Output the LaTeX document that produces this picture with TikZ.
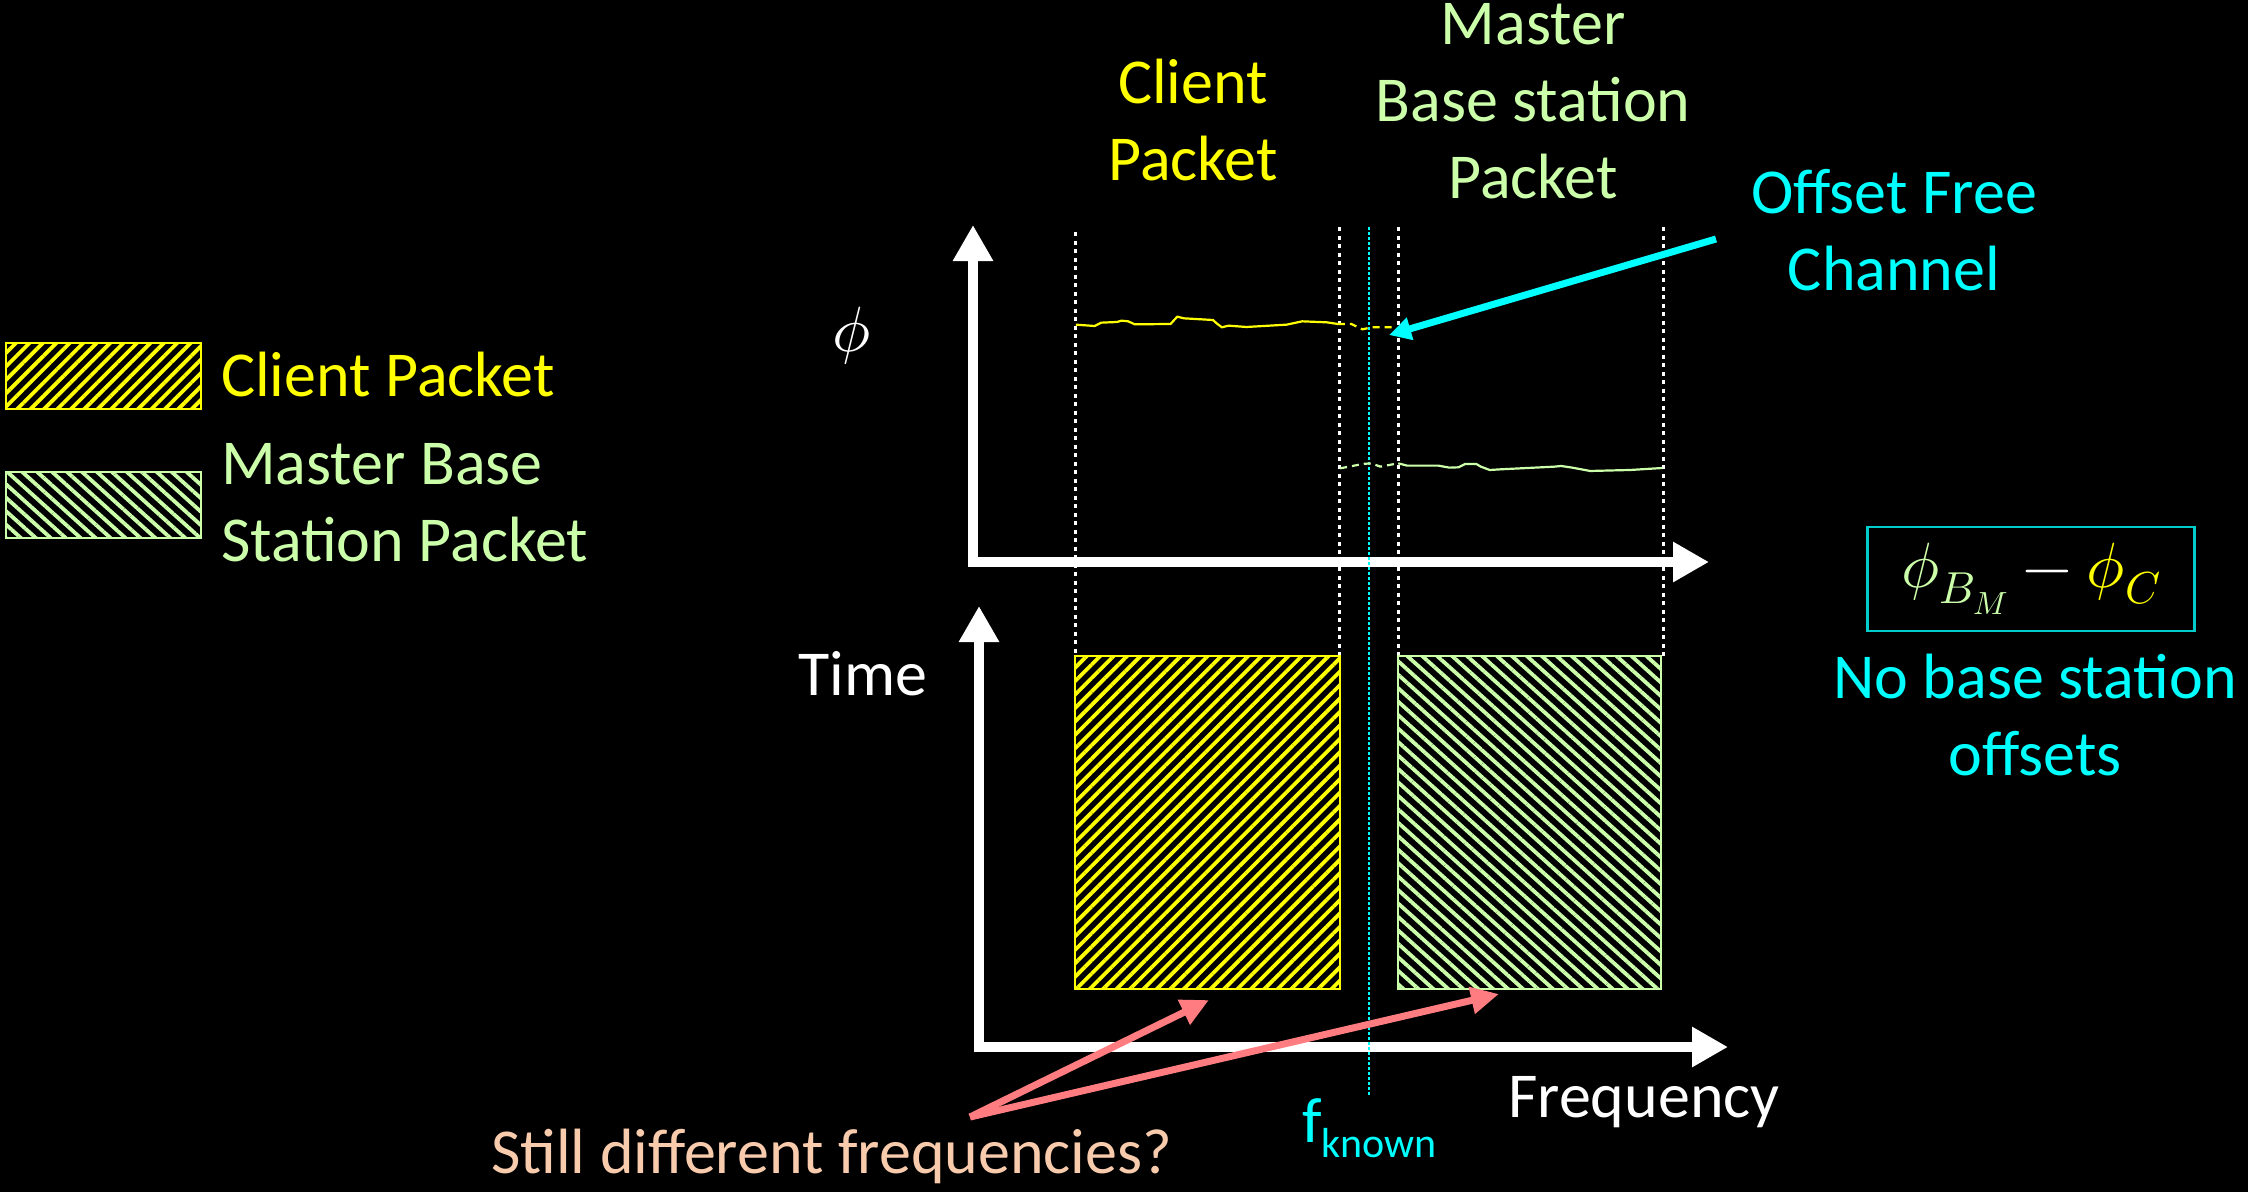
\documentclass[tikz,border=0pt]{standalone}
\usepackage{fontspec}
\usepackage{unicode-math}
\setmainfont{Carlito}
\setmathfont{Latin Modern Math}
\usetikzlibrary{arrows.meta,patterns.meta}

\definecolor{cyanC}{HTML}{00FFFF}
\definecolor{boxC}{HTML}{00CCCC}
\definecolor{clientY}{HTML}{FFFF00}
\definecolor{masterG}{HTML}{CCFFAA}
\definecolor{peach}{HTML}{F8CBAD}
\definecolor{salmon}{HTML}{FF7C80}

\tikzset{
  big/.style={font=\fontsize{64}{77}\selectfont, inner sep=0pt, align=center},
  axis/.style={white, line width=10pt, -{Triangle[length=36pt,width=38pt]}},
  guide/.style={white, line width=3pt, dash pattern=on 4pt off 4.5pt},
  fguide/.style={cyanC, line width=2pt, dash pattern=on 2.5pt off 2.5pt},
  clientpkt/.style={draw=clientY, line width=2.5pt,
    pattern={Lines[angle=45,distance=9.5pt,line width=3.8pt]}, pattern color=clientY},
  masterpkt/.style={draw=masterG, line width=2.5pt,
    pattern={Lines[angle=-42,distance=10pt,line width=3.8pt]}, pattern color=masterG},
  pointer/.style={salmon, line width=7pt, -{Triangle[length=28pt,width=26pt]}},
}

\begin{document}
\begin{tikzpicture}[x=1pt, y={(0pt,-1pt)}]
% canvas
\fill[black] (0,0) rectangle (2248,1192);
\useasboundingbox (0,0) rectangle (2248,1192);

% legend (multi-line nodes are placed by the baseline of their last line)
\draw[clientpkt] (6,343) rectangle (201,409);
\node[big, text=clientY, anchor=base west] (legC) at (221,396) {Client Packet};
\draw[masterpkt] (6,472) rectangle (201,538);
\node[big, text=masterG, anchor=base west, align=left] (legM) at (221,561) {Master Base\\Station Packet};

% packet titles
\node[big, text=clientY, anchor=base] (titC) at (1193,180) {Client\\Packet};
\node[big, text=masterG, anchor=base] (titM) at (1533,198) {Master\\Base station\\Packet};

% phase axes
\draw[axis] (973,567) -- (973,225);
\draw[axis] (968,562) -- (1709,562);
\node[font=\fontsize{64}{64}\selectfont, text=white, inner sep=0pt] (phiL) at (852,336) {$\phi$};

% time/frequency axes
\draw[axis] (979,1052) -- (979,606);
\draw[axis] (974,1047) -- (1728,1047);
\node[big, text=white, anchor=base west] (timeL) at (798,695) {Time};
\node[big, text=white, anchor=base west] (freqL) at (1508,1117) {Frequency};

% band edges
\draw[guide] (1075,232) -- (1075,656);
\draw[guide] (1339,227) -- (1339,656);
\draw[guide] (1398,227) -- (1398,656);
\draw[guide] (1663,227) -- (1663,656);
\draw[fguide] (1369,227) -- (1369,1095);
\node[font=\fontsize{64}{64}\selectfont, text=cyanC, inner sep=0pt, anchor=base west] (fk) at (1302,1142)
  {f\raisebox{-0.24em}{\fontsize{42}{42}\selectfont known}};

% packets
\draw[clientpkt] (1075,656) rectangle (1340,989);
\draw[masterpkt] (1398,656) rectangle (1661,989);
\coordinate (pktCbot) at (1209,1000);
\coordinate (pktMbot) at (1499,994);

% measured phase traces
\begin{scope}[shift={(1050,200)}, x=0.4464pt, y={(0pt,-0.3333pt)}, line width=2.2pt, line join=round]
  \draw[clientY] (58,374) -- (100,378) -- (115,368) -- (150,366) -- (160,362) -- (175,364) -- (190,373)
    -- (270,372) -- (285,350) -- (300,355) -- (365,360) -- (375,372) -- (385,382) -- (400,377)
    -- (440,381) -- (530,374) -- (565,364) -- (620,367) -- (645,372);
  \draw[clientY, dash pattern=on 7pt off 5pt] (645,372) -- (675,372) -- (700,388) -- (720,382) -- (775,382);
  \draw[masterG, dash pattern=on 7pt off 5pt] (650,805) -- (670,800) -- (700,792) -- (720,790) -- (740,800) -- (780,790);
  \draw[masterG] (780,790) -- (800,797) -- (870,797) -- (895,803) -- (915,802) -- (930,792) -- (955,792)
    -- (965,800) -- (985,810) -- (1010,808) -- (1130,800) -- (1145,798) -- (1170,803) -- (1210,813)
    -- (1300,810) -- (1372,804);
\end{scope}

% offset-free channel callout
\node[big, text=cyanC, anchor=base] (ofc) at (1894,290) {Offset Free\\Channel};
\coordinate (ofcTail) at (1716,239);
\coordinate (ofcTip) at (1389,335);
\draw[cyanC, line width=7pt, -{Triangle[length=22pt,width=22pt]}] (ofcTail) -- (ofcTip);

% phase difference
\node[draw=boxC, line width=2.5pt, minimum width=327pt, minimum height=104pt, inner sep=0pt,
      font=\fontsize{64}{64}\selectfont] (diff) at (2031,579)
  {$\textcolor{masterG}{\phi_{B_M}} \mathbin{\textcolor{white}{-}} \textcolor{clientY}{\phi_C}$};
\node[big, text=cyanC, anchor=base] (nob) at (2035,775) {No base station\\offsets};

% question
\node[big, text=peach, anchor=base west] (q) at (491,1173) {Still different frequencies?};
\coordinate (qTail) at (970,1117);
\draw[pointer] (qTail) -- (pktCbot);
\draw[pointer] (qTail) -- (pktMbot);
\end{tikzpicture}
\end{document}
